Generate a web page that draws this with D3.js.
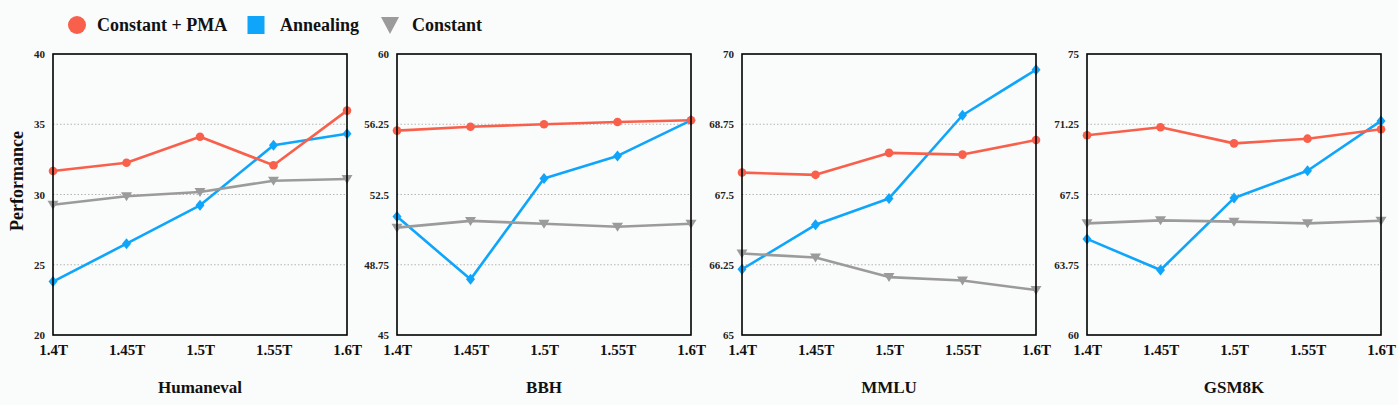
<!DOCTYPE html>
<html><head><meta charset="utf-8">
<script src="https://cdn.jsdelivr.net/npm/d3@7"></script>
<style>
html,body{margin:0;padding:0;background:#fafbfb;}
svg{display:block;}
svg text{font-family:"Liberation Serif","Times New Roman",serif !important;font-weight:bold;}
</style></head><body>
<svg id="chart" width="1398" height="405"></svg>
<script>
const categories = ["1.4T","1.45T","1.5T","1.55T","1.6T"];
const seriesNames = ["Constant + PMA","Annealing","Constant"];
const seriesColors = ["#f8604c","#0ea5fb","#9b9b9b"];
const panelTitles = ["Humaneval","BBH","MMLU","GSM8K"];
const yDomains = [[20,40],[45,60],[65,70],[60,75]];
const yTicks = [
  [20,25,30,35,40],
  [45,48.75,52.5,56.25,60],
  [65,66.25,67.5,68.75,70],
  [60,63.75,67.5,71.25,75]
];
const pmaValues = [
  [31.67,32.26,34.11,32.08,35.97],
  [55.91,56.12,56.25,56.37,56.46],
  [67.89,67.85,68.24,68.21,68.47],
  [70.66,71.09,70.23,70.48,70.98]
];
const annealValues = [
  [23.8,26.5,29.23,33.5,34.33],
  [51.32,47.97,53.35,54.56,56.46],
  [66.17,66.96,67.43,68.91,69.72],
  [65.13,63.47,67.31,68.77,71.43]
];
const constValues = [
  [29.27,29.87,30.18,30.98,31.1],
  [50.73,51.09,50.94,50.78,50.94],
  [66.45,66.38,66.03,65.97,65.80],
  [65.96,66.12,66.05,65.96,66.1]
];
const allSeries = [pmaValues, annealValues, constValues];

const svg = d3.select("#chart");
const panelLeft = [53,397,742,1087];
const panelW = 294;
const plotTop = 54, plotBottom = 335;
const FONT = "Liberation Serif";

function marker(g, type, color, x, y){
  if(type===0){
    g.append("circle").attr("cx",x).attr("cy",y).attr("r",4.3).attr("fill",color);
  } else if(type===1){
    g.append("path").attr("d","M0,-5.5 L4.5,0 L0,5.5 L-4.5,0 Z").attr("transform",`translate(${x},${y})`).attr("fill",color);
  } else {
    g.append("path").attr("d","M-5.5,-4 L5.5,-4 L0,5 Z").attr("transform",`translate(${x},${y})`).attr("fill",color);
  }
}

panelTitles.forEach((title,p)=>{
  const x = d3.scalePoint().domain(categories).range([panelLeft[p], panelLeft[p]+panelW]);
  const y = d3.scaleLinear().domain(yDomains[p]).range([plotBottom, plotTop]);
  const g = svg.append("g");
  g.selectAll("line.grid").data(yTicks[p].slice(1,-1)).join("line")
    .attr("x1",panelLeft[p]).attr("x2",panelLeft[p]+panelW)
    .attr("y1",d=>y(d)).attr("y2",d=>y(d))
    .attr("stroke","#b5b5b5").attr("stroke-width",1).attr("stroke-dasharray","1.5,2");
  const ya = g.append("g").attr("transform",`translate(${panelLeft[p]},0)`)
    .call(d3.axisLeft(y).tickValues(yTicks[p]).tickSize(0).tickPadding(8).tickFormat(d=>String(d)));
  ya.attr("font-family",FONT);
  ya.select(".domain").remove();
  ya.selectAll("text").attr("font-size",11).attr("font-family",FONT).attr("font-weight","bold").attr("fill","#222");
  const xa = g.append("g").attr("transform",`translate(0,${plotBottom})`)
    .call(d3.axisBottom(x).tickSize(0).tickPadding(9));
  xa.attr("font-family",FONT);
  xa.select(".domain").remove();
  xa.selectAll("text").attr("font-size",15).attr("font-family",FONT).attr("font-weight","bold").attr("fill","#111");
  const line = d3.line().x((d,i)=>x(categories[i])).y(d=>y(d));
  [1,2,0].forEach(s=>{
    const vals = allSeries[s][p];
    g.append("path").datum(vals).attr("d",line).attr("fill","none")
      .attr("stroke",seriesColors[s]).attr("stroke-width",2.6).attr("stroke-linejoin","round");
  });
  [2,1,0].forEach(s=>{
    allSeries[s][p].forEach((v,i)=>marker(g,s,seriesColors[s],x(categories[i]),y(v)));
  });
  g.append("rect").attr("x",panelLeft[p]).attr("y",plotTop).attr("width",panelW).attr("height",plotBottom-plotTop)
    .attr("fill","none").attr("stroke","#000").attr("stroke-width",1.6);
  g.append("text").attr("x",panelLeft[p]+panelW/2).attr("y",393).attr("text-anchor","middle")
    .attr("font-family",FONT).attr("font-weight","bold")
    .attr("font-size",17).attr("fill","#111").text(title);
});

svg.append("text").attr("transform","translate(23,181) rotate(-90)").attr("text-anchor","middle")
  .attr("font-family",FONT).attr("font-weight","bold")
  .attr("font-size",18).attr("fill","#111").text("Performance");

const legX = [77,256,390];
const legTextX = [97,280,412];
seriesNames.forEach((n,s)=>{
  const lg = svg.append("g");
  if(s===0) lg.append("circle").attr("cx",legX[s]).attr("cy",25).attr("r",9).attr("fill",seriesColors[s]);
  else if(s===1) lg.append("rect").attr("x",legX[s]-8.5).attr("y",16).attr("width",17).attr("height",18).attr("fill",seriesColors[s]);
  else lg.append("path").attr("d","M-9,-8 L9,-8 L0,9 Z").attr("transform",`translate(${legX[s]},25)`).attr("fill",seriesColors[s]);
  lg.append("text").attr("x",legTextX[s]).attr("y",31).attr("font-family",FONT).attr("font-weight","bold")
    .attr("font-size",18).attr("fill","#111").text(n);
});
</script>
</body></html>
